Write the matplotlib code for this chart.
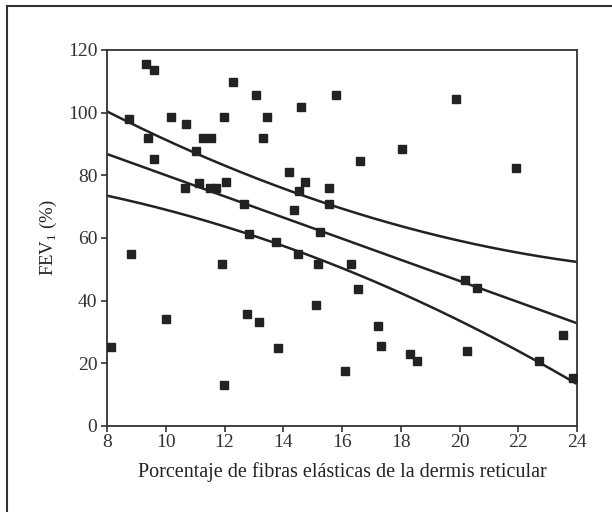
"""
FEV1 vs porcentaje de fibras elasticas - scatter with regression line and 95% CI
"""

import matplotlib.pyplot as plt
import numpy as np
from matplotlib.lines import Line2D

# data
fibras = [8.12, 8.75, 8.8, 9.33, 9.4, 9.6, 9.6, 10.0, 10.17, 10.66,
          10.69, 11.02, 11.13, 11.28, 11.55, 11.5, 11.71, 11.91, 11.97, 11.98,
          12.04, 12.28, 12.66, 12.76, 12.83, 13.06, 13.17, 13.31, 13.43, 13.75,
          13.82, 14.2, 14.37, 14.5, 14.54, 14.6, 14.74, 15.11, 15.18, 15.25,
          15.56, 15.56, 15.8, 16.1, 16.3, 16.56, 16.61, 17.22, 17.33, 18.03,
          18.31, 18.57, 19.88, 20.19, 20.26, 20.6, 21.92, 22.69, 23.52, 23.87]
fev1 = [25.3, 98.0, 54.8, 115.5, 92.0, 113.6, 85.1, 34.3, 98.7, 75.8,
        96.4, 87.9, 77.6, 92.0, 92.0, 75.8, 75.8, 51.7, 98.7, 13.2,
        77.8, 109.8, 71.0, 35.9, 61.3, 105.7, 33.1, 92.0, 98.7, 58.6,
        25.0, 81.0, 68.8, 54.8, 74.9, 101.7, 77.8, 38.6, 51.8, 61.8,
        75.8, 71.0, 105.7, 17.4, 51.8, 43.8, 84.7, 32.0, 25.6, 88.5,
        23.1, 20.8, 104.5, 46.7, 23.8, 44.2, 82.5, 20.8, 28.9, 15.3]

# regression line and band
line_x = [8, 12, 16, 20, 24]
fit_y = [86.8, 73.3, 59.8, 46.3, 32.8]
upper_y = [100.5, 83.0, 69.2, 59.5, 52.2]
lower_y = [73.5, 63.5, 51.0, 33.0, 13.6]

xticks = [8, 10, 12, 14, 16, 18, 20, 22, 24]
yticks = [0, 20, 40, 60, 80, 100, 120]

plt.rcParams['font.family'] = ['Liberation Serif', 'DejaVu Serif']
plt.rcParams['mathtext.fontset'] = 'custom'
plt.rcParams['mathtext.rm'] = 'Liberation Serif'


def smooth_band(xs, ys):
    # quadratic through the read points, only to draw a smooth curve
    c = np.polyfit(xs, ys, 2)
    xx = np.linspace(xs[0], xs[-1], 200)
    return xx, np.polyval(c, xx)


def main():
    fig = plt.figure(figsize=(6.12, 5.12), dpi=100)
    ax = fig.add_axes([107 / 612, 1 - 426 / 512, 470 / 612, 376 / 512])

    ax.plot(fibras, fev1, 's', color='#222222', markersize=5.6, zorder=3)

    for band in (fit_y, upper_y, lower_y):
        xx, yy = smooth_band(line_x, band)
        ax.plot(xx, yy, color='#222222', lw=1.8)

    ax.set_xlim(8, 24)
    ax.set_ylim(0, 120)
    ax.set_xticks(xticks)
    ax.set_yticks(yticks)
    ax.tick_params(direction='out', length=4, width=1.2, labelsize=14,
                   colors='#333333')
    ax.tick_params(axis='x', pad=2)
    ax.tick_params(axis='y', pad=3)
    for spine in ax.spines.values():
        spine.set_linewidth(1.3)
        spine.set_color('#333333')

    ax.set_xlabel('Porcentaje de fibras elásticas de la dermis reticular',
                  fontsize=14.5, color='#222222', labelpad=8)
    ax.set_ylabel('FEV$_1$ (%)', fontsize=13.5, color='#222222', labelpad=6)

    # outer frame (left and top edges visible)
    fig.add_artist(Line2D([7 / 612, 7 / 612], [0, 1 - 6 / 512],
                          transform=fig.transFigure, color='#333333', lw=1.5))
    fig.add_artist(Line2D([7 / 612, 1], [1 - 6 / 512, 1 - 6 / 512],
                          transform=fig.transFigure, color='#333333', lw=1.5))

    fig.savefig('out.png', dpi=100)
    plt.close(fig)


if __name__ == "__main__":
    main()
